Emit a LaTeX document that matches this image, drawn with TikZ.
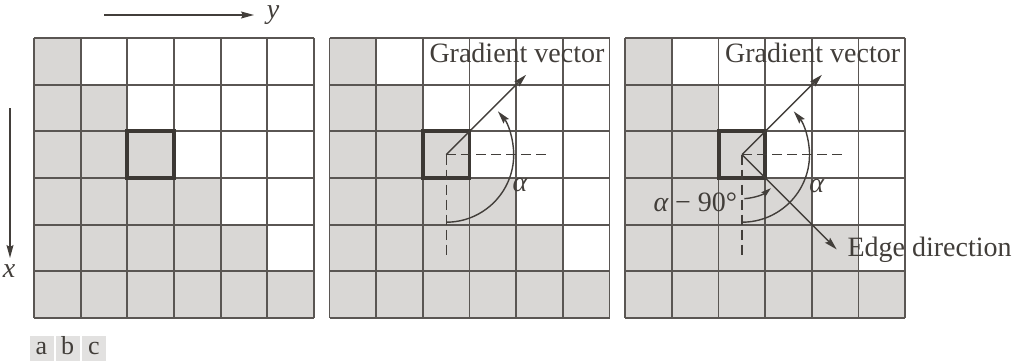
\documentclass[tikz,border=0pt]{standalone}
\usepackage{fontspec}
\setmainfont{Liberation Serif}
\usetikzlibrary{arrows.meta}
\definecolor{cellgray}{HTML}{D9D7D5}
\definecolor{gridline}{HTML}{5A5653}
\definecolor{ink}{HTML}{423E3A}
\definecolor{boxline}{HTML}{3C3834}
\definecolor{tabgray}{HTML}{E2E1E0}
\begin{document}
\begin{tikzpicture}[x=1pt,y=1pt,
  gridln/.style={draw=gridline, line width=1.7pt},
  thickbox/.style={draw=boxline, line width=3.8pt},
  arr/.style={draw=ink, line width=1.4pt, -{Stealth[length=13pt,width=7pt,inset=2pt]}},
  smallarr/.style={draw=ink, line width=1.4pt, -{Stealth[length=10pt,width=6pt,inset=1.5pt]}},
  dashln/.style={draw=ink, line width=1.4pt, dash pattern=on 10pt off 5pt},
  lbl/.style={font=\fontsize{28}{30}\selectfont, text=ink, inner sep=0pt},
  tab/.style={fill=tabgray, minimum width=24pt, minimum height=25pt, inner sep=0pt, text height=17pt, text depth=4pt, text=ink, font=\fontsize{26}{28}\selectfont}]
\useasboundingbox (0,0) rectangle (1015,-361);
% grids
\foreach \ox in {34,329.5,625.3} {
  \foreach \r in {0,...,5} {
    \foreach \c in {0,...,\r} {
      \fill[cellgray] ({\ox+\c*46.667},{-38-\r*46.667}) rectangle +(46.667,-46.667);
    }
  }
  \foreach \i in {0,...,6} {
    \draw[gridln] ({\ox+\i*46.667},-38) -- +(0,-280);
    \draw[gridln] (\ox,{-38-\i*46.667}) -- +(280,0);
  }
  \draw[thickbox] ({\ox+2*46.667},{-38-2*46.667}) rectangle +(46.667,-46.667);
}
% axes
\coordinate (ya) at (104,-15);
\coordinate (yb) at (254,-15);
\node[lbl, font=\fontsize{28}{30}\selectfont\itshape, anchor=base] (ylab) at (273,-19) {y};
\draw[arr] (ya) -- (yb);
\coordinate (xa) at (10,-108);
\coordinate (xb) at (10,-258);
\node[lbl, font=\fontsize{28}{30}\selectfont\itshape] (xlab) at (9,-271) {x};
\draw[arr] (xa) -- (xb);
% grid 2
\coordinate (c2) at (446.2,-154.7);
\draw[dashln] (c2) -- ++(100,0) coordinate (h2);
\draw[dashln] (c2) -- ++(0,-102) coordinate (v2);
\draw[arr] (c2) -- ++(45:113) coordinate (gt2);
\draw[arr] (c2) ++(-90:67.5) arc[start angle=-90, end angle=40, radius=67.5];
\node[lbl, anchor=base west] (gv2) at (429.3,-63) {Gradient vector};
\node[lbl, font=\fontsize{28}{30}\selectfont\itshape] (al2) at (520,-185) {α};
% grid 3
\coordinate (c3) at (742,-154.7);
\draw[dashln] (c3) -- ++(101,0) coordinate (h3);
\draw[dashln] (c3) -- ++(0,-102) coordinate (v3);
\draw[arr] (c3) -- ++(45:113) coordinate (gt3);
\draw[arr] (c3) -- ++(-45:134) coordinate (et3);
\draw[arr] (c3) ++(-90:67.5) arc[start angle=-90, end angle=40, radius=67.5];
\draw[smallarr] (c3) ++(-87:44) arc[start angle=-87, end angle=-50, radius=45];
\node[lbl, anchor=base west] (gv3) at (725,-63) {Gradient vector};
\node[lbl, font=\fontsize{28}{30}\selectfont\itshape] (al3) at (816.7,-186) {α};
\node[lbl, anchor=base west] (am90) at (653.3,-211.7) {{\itshape α}\kern7pt −\kern7pt 90°};
\node[lbl, anchor=base west] (ed) at (847.3,-256.7) {Edge direction};
% tabs
\node[tab, anchor=south west] (ta) at (29.3,-361) {a};
\node[tab, anchor=south west] (tb) at (55.3,-361) {b};
\node[tab, anchor=south west] (tc) at (81.7,-361) {c};
\end{tikzpicture}
\end{document}
